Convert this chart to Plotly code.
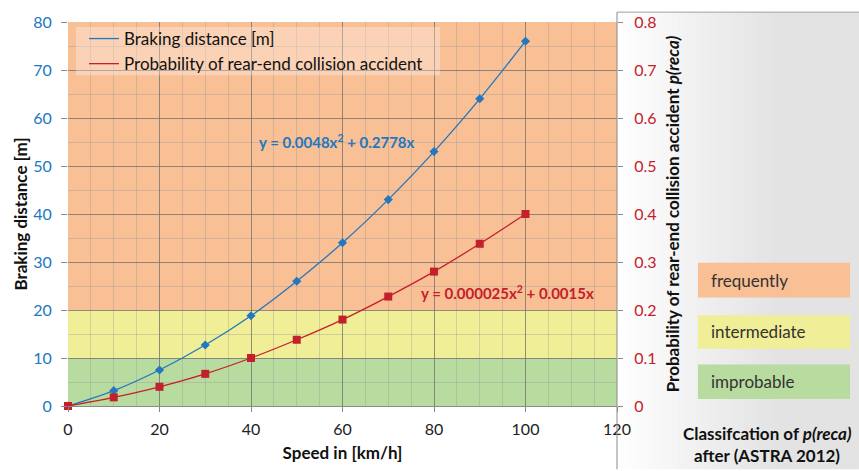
import plotly.graph_objects as go

speed = [0, 10, 20, 30, 40, 50, 60, 70, 80, 90, 100]
braking = [0, 3.2, 7.5, 12.7, 18.8, 26.0, 34.0, 43.0, 53.0, 64.0, 76.0]
prob = [0, 0.018, 0.040, 0.067, 0.100, 0.138, 0.180, 0.228, 0.280, 0.338, 0.400]

series_names = ["Braking distance [m]", "Probability of rear-end collision accident"]
classes = ["frequently", "intermediate", "improbable"]
class_colors = ["#F9BF95", "#F0EE96", "#B8DBA0"]
band_ranges = [(20, 80), (10, 20), (0, 10)]

BLUE = "#2277C0"
RED = "#C4202B"
FONT = "Lato"

W, H = 859, 471
L, R, T, B = 68, 617, 18, 407


def px(x):
    return (x - L) / (R - L)


def py(y):
    return (B - y) / (B - T)


fig = go.Figure()
fig.add_trace(go.Scatter(
    x=speed, y=braking, name=series_names[0], mode="lines+markers", showlegend=False,
    line=dict(color=BLUE, width=1.3, shape="spline"),
    marker=dict(symbol="diamond", size=7, color=BLUE),
    cliponaxis=False))
fig.add_trace(go.Scatter(
    x=speed, y=prob, name=series_names[1], yaxis="y2", showlegend=False,
    mode="lines+markers",
    line=dict(color=RED, width=1.3, shape="spline"),
    marker=dict(symbol="square", size=8, color=RED),
    cliponaxis=False))
# legend entries (line only, as in the reference)
for nm, col in zip(series_names, [BLUE, RED]):
    fig.add_trace(go.Scatter(x=[None], y=[None], name=nm, mode="lines",
                             line=dict(color=col, width=1.3)))

shapes = []
for (y0, y1), c in zip(band_ranges, class_colors):
    shapes.append(dict(type="rect", xref="x", yref="y", x0=0, x1=120, y0=y0, y1=y1,
                       fillcolor=c, line=dict(width=0), layer="below"))

# legend background
shapes.append(dict(type="rect", xref="paper", yref="paper", x0=px(76), x1=px(440),
                   y0=py(72), y1=py(23), fillcolor="rgba(255,255,255,0.3)",
                   line=dict(width=0), layer="above"))

# right panel gradient background
n = 40
x_start, x_end = 617, 859
for i in range(n):
    a = x_start + (x_end - x_start) * i / n
    b = x_start + (x_end - x_start) * (i + 1) / n
    t = (i + 0.5) / n
    g = int(255 - 28 * min(1.0, t * 1.5) ** 1.0)
    shapes.append(dict(type="rect", xref="paper", yref="paper",
                       x0=px(a), x1=px(b) + 0.002, y0=py(471), y1=py(8),
                       fillcolor=f"rgb({g},{g},{g})", line=dict(width=0), layer="below"))
shapes.append(dict(type="line", xref="paper", yref="paper", x0=px(617), x1=px(859),
                   y0=py(8), y1=py(8), line=dict(color="#a0a0a0", width=1)))
shapes.append(dict(type="line", xref="paper", yref="paper", x0=px(617), x1=px(617),
                   y0=py(8), y1=py(471), line=dict(color="#8a8a8a", width=1)))

annotations = []
box_y = [(262, 297), (315, 349), (365, 400)]
for name, c, (y0, y1) in zip(classes, class_colors, box_y):
    shapes.append(dict(type="rect", xref="paper", yref="paper", x0=px(698), x1=px(850),
                       y0=py(y1), y1=py(y0), fillcolor=c, line=dict(width=0)))
    annotations.append(dict(xref="paper", yref="paper", x=px(709), y=py((y0 + y1) / 2),
                            text=name, showarrow=False, xanchor="left", yanchor="middle",
                            font=dict(family=FONT, size=17, color="#333333")))

annotations += [
    dict(xref="paper", yref="paper", x=px(767), y=py(435), text="<b>Classifcation of <i>p(reca)</i></b>",
         showarrow=False, xanchor="center", yanchor="middle",
         font=dict(family=FONT, size=17, color="#111111")),
    dict(xref="paper", yref="paper", x=px(767), y=py(457), text="<b>after (ASTRA 2012)</b>",
         showarrow=False, xanchor="center", yanchor="middle",
         font=dict(family=FONT, size=17, color="#111111")),
    dict(xref="paper", yref="paper", x=px(337), y=py(139), text="<b>y = 0.0048x<sup>2</sup> + 0.2778x</b>",
         showarrow=False, xanchor="center", yanchor="middle",
         font=dict(family=FONT, size=15, color=BLUE)),
    dict(xref="paper", yref="paper", x=px(507), y=py(292), text="<b>y = 0.000025x<sup>2</sup> + 0.0015x</b>",
         showarrow=False, xanchor="center", yanchor="middle",
         font=dict(family=FONT, size=15, color=RED)),
]

grid_major = "rgba(110,110,110,0.75)"
grid_minor = "rgba(150,150,150,0.35)"

fig.update_layout(
    width=W, height=H,
    margin=dict(l=L, r=W - R, t=T, b=H - B),
    paper_bgcolor="white", plot_bgcolor="rgba(0,0,0,0)",
    font=dict(family=FONT, size=14, color="#222222"),
    shapes=shapes, annotations=annotations,
    showlegend=True,
    legend=dict(x=px(84), y=py(17), xanchor="left", yanchor="top",
                bgcolor="rgba(0,0,0,0)", borderwidth=0,
                font=dict(family=FONT, size=17, color="#111111"),
                tracegroupgap=0, itemwidth=30),
    xaxis=dict(range=[0, 120], dtick=20, tick0=0, showgrid=True, gridcolor=grid_major,
               gridwidth=1, zeroline=False, showline=True, linecolor="#8a8a8a",
               ticks="outside", ticklen=5, tickcolor="#8a8a8a", ticklabelstandoff=4,
               tickfont=dict(family=FONT, size=16, color="#222222"),
               title=dict(text="<b>Speed in [km/h]</b>", standoff=9,
                          font=dict(family=FONT, size=17, color="#111111")),
               minor=dict(dtick=5, showgrid=True, gridcolor=grid_minor, gridwidth=1, ticks="")),
    yaxis=dict(range=[0, 80], dtick=10, showgrid=True, gridcolor=grid_major, gridwidth=1,
               zeroline=False, showline=False, ticks="outside", ticklen=6, tickcolor="#8a8a8a",
               ticklabelstandoff=6,
               tickfont=dict(family=FONT, size=16, color=BLUE),
               title=dict(text="<b>Braking distance [m]</b>", standoff=1,
                          font=dict(family=FONT, size=17, color="#111111")),
               minor=dict(dtick=5, showgrid=True, gridcolor=grid_minor, gridwidth=1, ticks="")),
    yaxis2=dict(range=[0, 0.8], dtick=0.1, overlaying="y", side="right", showgrid=False,
                zeroline=False, showline=False, ticks="outside", ticklen=5, tickcolor="#8a8a8a",
                ticklabelstandoff=8,
                tickfont=dict(family=FONT, size=16, color=RED),
                title=dict(text="<b>Probability of rear-end collision accident <i>p(reca)</i></b>",
                           standoff=11, font=dict(family=FONT, size=17, color="#111111"))),
)

fig.write_html("out.html")
